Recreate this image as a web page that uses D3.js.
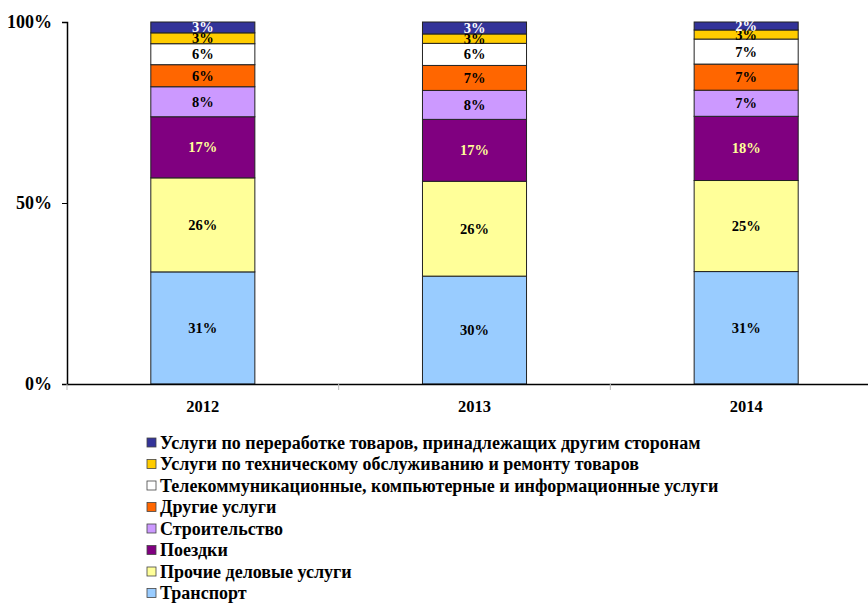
<!DOCTYPE html>
<html>
<head>
<meta charset="utf-8">
<script src="https://cdn.jsdelivr.net/npm/d3@7"></script>
<style>
  body { margin: 0; background: #fff; }
  svg { display: block; }
  svg text { font-family: "Liberation Serif", "Times New Roman", serif; font-weight: bold; }
</style>
</head>
<body>
<svg id="chart" width="868" height="603"></svg>
<script>
// ---- data (bottom to top of stack) ----
const years = ["2012", "2013", "2014"];
const seriesNames = [
  "Транспорт",
  "Прочие деловые услуги",
  "Поездки",
  "Строительство",
  "Другие услуги",
  "Телекоммуникационные, компьютерные и информационные услуги",
  "Услуги по техническому обслуживанию и ремонту товаров",
  "Услуги по переработке товаров, принадлежащих другим сторонам"
];
const colors = ["#99CCFF", "#FFFF99", "#800080", "#CC99FF", "#FF6600", "#FFFFFF", "#FFCC00", "#333399"];
const labelColors = ["#000", "#000", "#FFFF99", "#000", "#000", "#000", "#000", "#FFF"];
const transport = [31.0, 29.8, 31.0];
const otherBusiness = [26.0, 26.2, 25.1];
const travel = [16.9, 17.1, 17.7];
const construction = [8.3, 8.0, 7.2];
const otherServices = [6.1, 6.9, 7.2];
const telecom = [5.8, 6.1, 6.9];
const maintenance = [3.0, 2.6, 2.5];
const processing = [3.0, 3.3, 2.2];
const yTicks = [0, 0.5, 1];

const seriesValues = [transport, otherBusiness, travel, construction, otherServices, telecom, maintenance, processing];

// table for d3.stack
const table = years.map((y, i) => {
  const row = { year: y };
  seriesNames.forEach((s, k) => row[s] = seriesValues[k][i]);
  return row;
});

const svg = d3.select("#chart");
const x0 = 67, xEnd = 882, yTop = 22, yBottom = 384;

const x = d3.scaleBand().domain(years).range([x0, xEnd])
  .paddingInner(0.617).paddingOuter(0.3085);
const y = d3.scaleLinear().domain([0, 1]).range([yBottom, yTop]);

const stacked = d3.stack().keys(seriesNames).offset(d3.stackOffsetExpand)(table);

// bars
const layers = svg.append("g").selectAll("g")
  .data(stacked).enter().append("g")
  .attr("fill", (d, i) => colors[i]);

layers.selectAll("rect")
  .data(d => d).enter().append("rect")
  .attr("x", d => x(d.data.year))
  .attr("width", x.bandwidth())
  .attr("y", d => y(d[1]))
  .attr("height", d => y(d[0]) - y(d[1]))
  .attr("stroke", "#222")
  .attr("stroke-width", 1);

// value labels
stacked.forEach((layer, k) => {
  svg.append("g").selectAll("text")
    .data(layer).enter().append("text")
    .attr("x", d => x(d.data.year) + x.bandwidth() / 2)
    .attr("y", d => (y(d[0]) + y(d[1])) / 2)
    .attr("dy", "0.35em")
    .attr("text-anchor", "middle")
    .attr("font-size", 14.5)
    .attr("fill", labelColors[k])
    .text(d => Math.round(d.data[layer.key]) + "%");
});

// y axis
const yAxis = d3.axisLeft(y).tickValues(yTicks).tickFormat(d3.format(".0%")).tickSize(5).tickPadding(10);
const gy = svg.append("g").attr("transform", `translate(${x0},0)`).call(yAxis);
gy.attr("font-family", null);
gy.select(".domain").attr("stroke", "#000").attr("stroke-width", 1.5);
gy.selectAll(".tick line").attr("stroke", "#000");
gy.selectAll(".tick text").attr("font-size", 18).attr("fill", "#000");

// x axis
const gx = svg.append("g").attr("transform", `translate(0,${yBottom})`)
  .call(d3.axisBottom(x).tickSize(0).tickPadding(16));
gx.attr("font-family", null);
gx.select(".domain").attr("stroke", "#000").attr("stroke-width", 1.5);
gx.selectAll(".tick text").attr("font-size", 16.5).attr("fill", "#000");
// category separator ticks
svg.append("g").selectAll("line")
  .data(years).enter().append("line")
  .attr("x1", d => x(d) - x.step() * x.paddingOuter())
  .attr("x2", d => x(d) - x.step() * x.paddingOuter())
  .attr("y1", yBottom).attr("y2", yBottom + 6)
  .attr("stroke", "#bbb");

// legend (top-down: reverse of stack)
const legendOrder = d3.range(seriesNames.length).reverse();
const legend = svg.append("g").selectAll("g")
  .data(legendOrder).enter().append("g")
  .attr("transform", (k, i) => `translate(147,${443 + i * 21.5})`);
legend.append("rect")
  .attr("x", 0).attr("y", -5).attr("width", 9).attr("height", 9)
  .attr("fill", k => colors[k]).attr("stroke", "#444").attr("stroke-width", 0.8);
legend.append("text")
  .attr("x", 13).attr("y", 0).attr("dy", "0.33em")
  .attr("font-size", 18)
  .text(k => seriesNames[k]);
</script>
</body>
</html>
